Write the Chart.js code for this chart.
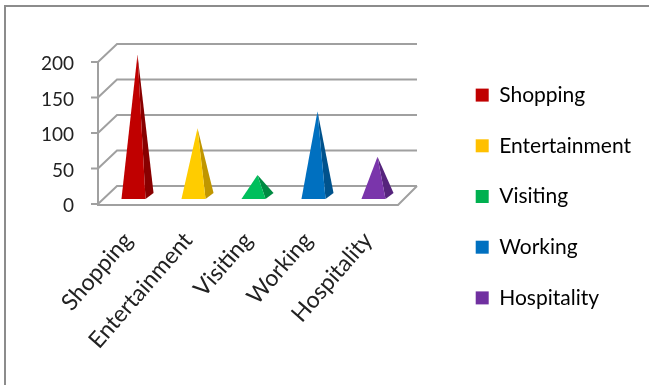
<!DOCTYPE html>
<html>
<head>
<meta charset="utf-8">
<title>Chart</title>
<script src="https://cdn.jsdelivr.net/npm/chart.js@4/dist/chart.umd.min.js"></script>
<style>
  html, body { margin: 0; padding: 0; background: #fff; overflow: hidden; }
  #wrap { position: relative; width: 649px; height: 385px; }
  #frame { position: absolute; left: 4px; top: 5px; right: 0; bottom: 0;
           border-top: 2px solid #8c8c8c; border-left: 2px solid #8c8c8c; }
</style>
</head>
<body>
<div id="wrap">
  <div id="frame"></div>
  <canvas id="visits" width="649" height="385" style="position:absolute;left:0;top:0"></canvas>
</div>
<script>
var categories = ["Shopping", "Entertainment", "Visiting", "Working", "Hospitality"];
var visits = [198, 94, 28, 118, 54];
var yTicks = [0, 50, 100, 150, 200];
var frontColors = ["#c00000", "#ffcc00", "#00bf5c", "#0070c0", "#7a35ab"];
var sideColors = ["#880000", "#c09600", "#008a42", "#00528c", "#55247c"];
var legendColors = ["#c00000", "#ffc000", "#00b050", "#0070c0", "#7030a0"];

var DEPTH_X = 19, DEPTH_Y = 18;
var GRID = "#a0a0a0";
var FONT = "Lato";

// bar element drawn as a pyramid standing halfway back on the floor
class PyramidElement extends Chart.BarElement {
  draw(ctx) {
    var o = this.options;
    var cx = this.x + DEPTH_X / 2;
    var apexY = this.y - DEPTH_Y / 2;
    var baseY = this.base - DEPTH_Y / 2 + 1;
    var halfW = this.width / 2, dx = 4, dy = 3;

    ctx.save();
    ctx.fillStyle = o.borderColor;
    ctx.beginPath();
    ctx.moveTo(cx - dx + halfW, baseY + dy);
    ctx.lineTo(cx + dx + halfW, baseY - dy);
    ctx.lineTo(cx, apexY);
    ctx.closePath();
    ctx.fill();

    ctx.fillStyle = o.backgroundColor;
    ctx.beginPath();
    ctx.moveTo(cx - dx - halfW, baseY + dy);
    ctx.lineTo(cx - dx + halfW, baseY + dy);
    ctx.lineTo(cx, apexY);
    ctx.closePath();
    ctx.fill();
    ctx.restore();
  }
}
PyramidElement.id = "pyramid";
PyramidElement.defaults = Chart.BarElement.defaults;

class PyramidController extends Chart.BarController {}
PyramidController.id = "pyramid";
PyramidController.defaults = Object.assign({}, Chart.BarController.defaults, { dataElementType: "pyramid" });
PyramidController.overrides = Chart.BarController.overrides;

Chart.register(PyramidElement, PyramidController);

// walls and floor of the box, from the y scale
var boxPlugin = {
  id: "box",
  beforeDatasetsDraw: function (chart) {
    var ctx = chart.ctx, y = chart.scales.y, x = chart.scales.x;
    var left = x.left, right = x.right;
    ctx.save();
    ctx.strokeStyle = GRID;
    ctx.lineWidth = 2;
    ctx.beginPath();
    yTicks.forEach(function (t) {
      var py = y.getPixelForValue(t);
      ctx.moveTo(left - 7, py);
      ctx.lineTo(left, py);
      ctx.lineTo(left + DEPTH_X, py - DEPTH_Y);
      ctx.lineTo(right + DEPTH_X, py - DEPTH_Y);
    });
    var y0 = y.getPixelForValue(0);
    ctx.moveTo(left, y.getPixelForValue(200));
    ctx.lineTo(left, y0 + 1);
    ctx.lineTo(right, y0 + 1);
    ctx.lineTo(right + DEPTH_X, y0 - DEPTH_Y);
    ctx.stroke();
    ctx.restore();
  }
};

new Chart(document.getElementById("visits"), {
  type: "pyramid",
  data: {
    labels: categories,
    datasets: [{
      data: visits,
      backgroundColor: frontColors,
      borderColor: sideColors,
      barPercentage: 1,
      categoryPercentage: 24 / 59.8,
      clip: false
    }]
  },
  plugins: [boxPlugin],
  options: {
    responsive: false,
    animation: false,
    layout: { padding: { left: 30, top: 8, right: 8, bottom: 0 } },
    scales: {
      x: {
        grid: { display: false },
        border: { display: false },
        ticks: {
          color: "#222",
          font: { family: FONT, size: 23 },
          minRotation: 49,
          maxRotation: 49,
          padding: 15,
          autoSkip: false
        },
        afterFit: function (s) { s.height = 181; }
      },
      y: {
        min: 0,
        max: 200,
        grid: { display: false },
        border: { display: false },
        ticks: {
          color: "#222",
          font: { family: FONT, size: 19 },
          callback: function (v) { return yTicks.indexOf(v) >= 0 ? v : null; },
          stepSize: 50,
          labelOffset: 2,
          padding: 16
        },
        afterFit: function (s) { s.width = 68; }
      },
      // empty scales that keep room above the box and between box and legend
      headroom: {
        type: "linear",
        position: "top",
        display: true,
        grid: { display: false },
        border: { display: false },
        ticks: { display: false },
        afterFit: function (s) { s.height = 54; }
      },
      gap: {
        type: "linear",
        position: "right",
        display: true,
        grid: { display: false },
        border: { display: false },
        ticks: { display: false },
        afterFit: function (s) { s.width = 48; }
      }
    },
    plugins: {
      tooltip: { enabled: false },
      legend: {
        position: "right",
        maxWidth: 204,
        labels: {
          color: "#222",
          font: { family: FONT, size: 21 },
          boxWidth: 13,
          boxHeight: 13,
          padding: 29.7,
          generateLabels: function () {
            return categories.map(function (c, i) {
              return { text: c, fillStyle: legendColors[i], strokeStyle: legendColors[i], lineWidth: 0, index: i };
            });
          }
        }
      }
    }
  }
});
</script>
</body>
</html>
